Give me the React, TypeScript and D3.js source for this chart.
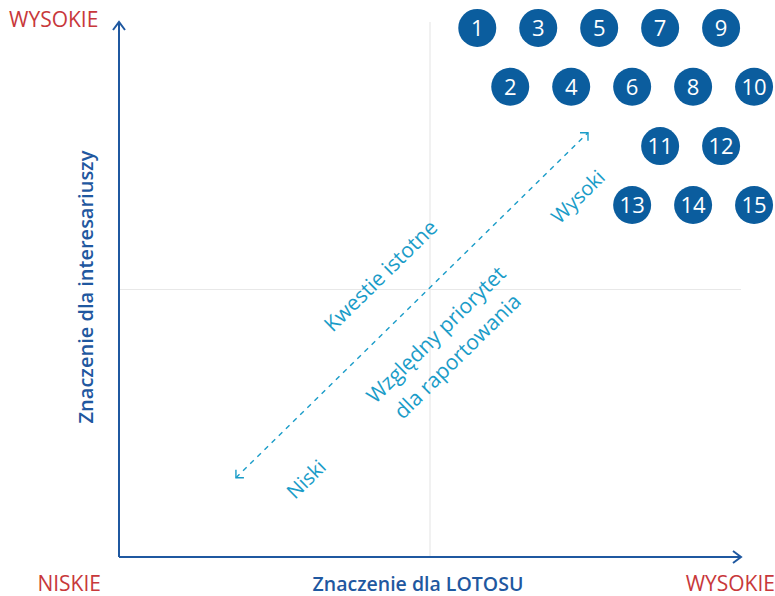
import React, { useEffect } from 'react';
import * as d3 from 'd3';

// Issues: id, importance for LOTOS (x), importance for stakeholders (y)
const issueIds = [1, 2, 3, 4, 5, 6, 7, 8, 9, 10, 11, 12, 13, 14, 15];
const issueX = [57.6, 62.9, 67.4, 72.7, 77.2, 82.5, 87.0, 92.3, 96.8, 102.1, 87.0, 96.8, 82.5, 92.3, 102.1];
const issueY = [98.9, 87.9, 98.9, 87.9, 98.9, 87.9, 98.9, 87.9, 98.9, 87.9, 76.8, 76.8, 65.8, 65.8, 65.8];

// Diagonal "priority" arrow, from low to high (scale units)
const arrowFrom = [18.8, 14.8];
const arrowTo = [75.4, 79.3];

const axisTitleX = 'Znaczenie dla LOTOSU';
const axisTitleY = 'Znaczenie dla interesariuszy';
const lowLabel = 'NISKIE';
const highLabel = 'WYSOKIE';

const W = 775;
const H = 596;
const FONT = '"Open Sans", "DejaVu Sans", sans-serif';
const AXIS_BLUE = '#1f58a0';
const DOT_BLUE = '#0b5d9e';
const TEAL = '#1a9cc8';
const RED = '#c8383b';

const App = () => {
  useEffect(() => {
    document.body.style.margin = '0';
  }, []);

  const x = d3.scaleLinear().domain([0, 100]).range([119, 741]);
  const y = d3.scaleLinear().domain([0, 100]).range([557, 22]);

  const issues = issueIds.map((id, i) => ({ id, x: issueX[i], y: issueY[i] }));

  // arrow angle for rotated labels
  const ax1 = x(arrowFrom[0]), ay1 = y(arrowFrom[1]);
  const ax2 = x(arrowTo[0]), ay2 = y(arrowTo[1]);
  const angle = (Math.atan2(ay2 - ay1, ax2 - ax1) * 180) / Math.PI;

  const chevron = (tx: number, ty: number, dx: number, dy: number, len: number, spread: number) => {
    const px = -dy, py = dx;
    return `M${tx - dx * len + px * spread},${ty - dy * len + py * spread}L${tx},${ty}L${tx - dx * len - px * spread},${ty - dy * len - py * spread}`;
  };

  const rotLabel = (cx: number, cy: number, lines: string[], size: number) => (
    <text
      transform={`translate(${cx},${cy}) rotate(${angle})`}
      textAnchor="middle"
      fontFamily={FONT}
      fontSize={size}
      fill={TEAL}
    >
      {lines.map((l, i) => (
        <tspan key={i} x={0} dy={i === 0 ? 0 : size * 1.45}>{l}</tspan>
      ))}
    </text>
  );

  return (
    <svg width={W} height={H} style={{ display: 'block' }}>
      {/* quadrant midlines */}
      <line x1={x(50)} x2={x(50)} y1={y(0)} y2={y(100)} stroke="#e8e8e8" strokeWidth={1.2} />
      <line x1={x(0)} x2={x(100)} y1={y(50)} y2={y(50)} stroke="#e8e8e8" strokeWidth={1.2} />

      {/* axes */}
      <line x1={x(0)} x2={x(0)} y1={y(0)} y2={y(100)} stroke={AXIS_BLUE} strokeWidth={2} />
      <line x1={x(0)} x2={x(100)} y1={y(0)} y2={y(0)} stroke={AXIS_BLUE} strokeWidth={2} />
      <path d={chevron(x(0), y(100), 0, -1, 8, 6)} fill="none" stroke={AXIS_BLUE} strokeWidth={2} />
      <path d={chevron(x(100), y(0), 1, 0, 8, 6)} fill="none" stroke={AXIS_BLUE} strokeWidth={2} />

      {/* diagonal priority arrow */}
      <line x1={ax1} y1={ay1} x2={ax2} y2={ay2} stroke={TEAL} strokeWidth={1.4} strokeDasharray="5,5" />
      <path d={`M${ax2 - 8},${ay2}L${ax2},${ay2}L${ax2},${ay2 + 8}`} fill="none" stroke={TEAL} strokeWidth={1.4} />
      <path d={`M${ax1 + 8},${ay1}L${ax1},${ay1}L${ax1},${ay1 - 8}`} fill="none" stroke={TEAL} strokeWidth={1.4} />

      {rotLabel(x(42.9), y(51.6), ['Kwestie istotne'], 21)}
      {rotLabel(x(51.8), y(40.6), ['Względny priorytet', 'dla raportowania'], 21)}
      {rotLabel(x(74.6), y(66.4), ['Wysoki'], 20)}
      {rotLabel(x(30.9), y(13.6), ['Niski'], 20)}

      {/* issues */}
      {issues.map((d) => (
        <g key={d.id} transform={`translate(${x(d.x)},${y(d.y)})`}>
          <circle r={19} fill={DOT_BLUE} />
          <text textAnchor="middle" dy="0.36em" fontFamily={FONT} fontSize={22} fill="#fff">{d.id}</text>
        </g>
      ))}

      {/* axis titles */}
      <text x={418} y={591} textAnchor="middle" fontFamily={FONT} fontWeight={600} fontSize={19.5} fill={AXIS_BLUE}>{axisTitleX}</text>
      <text transform="translate(93,287) rotate(-90)" textAnchor="middle" fontFamily={FONT} fontWeight={600} fontSize={20} fill={AXIS_BLUE}>{axisTitleY}</text>

      {/* low / high labels */}
      <text x={9} y={27} fontFamily={FONT} fontSize={21} fill={RED}>{highLabel}</text>
      <text x={101} y={591} textAnchor="end" fontFamily={FONT} fontSize={21} fill={RED}>{lowLabel}</text>
      <text x={775} y={591} textAnchor="end" fontFamily={FONT} fontSize={21} fill={RED}>{highLabel}</text>
    </svg>
  );
};

export default App;
